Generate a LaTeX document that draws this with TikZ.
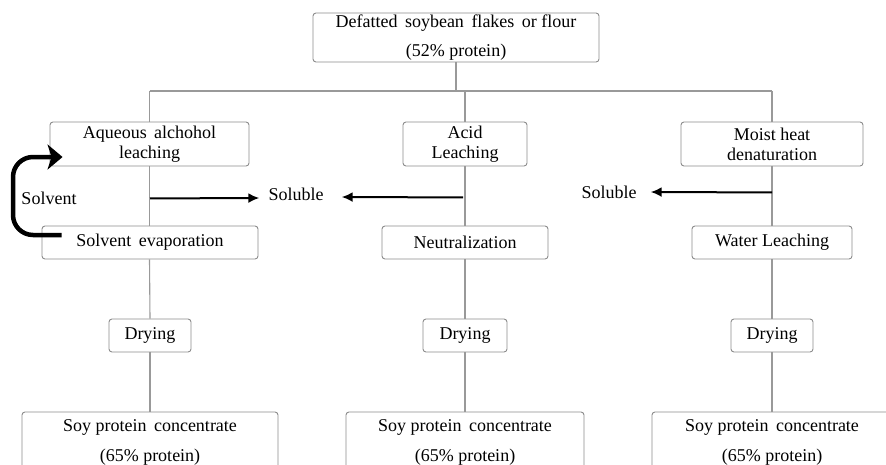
\documentclass[tikz,border=0pt]{standalone}
\usepackage{fontspec}
\setmainfont{Liberation Serif}
\usetikzlibrary{arrows.meta,calc}
\tikzset{
  box/.style={draw=black!45, rounded corners=3pt, line width=0.9pt, align=center, inner sep=0pt, font=\fontsize{18}{20}\selectfont},
  conn/.style={draw=black!40, line width=1.1pt},
  arr/.style={draw=black, line width=2pt, -{Latex[length=11pt,width=10pt]}},
  thickarr/.style={draw=black, line width=4.5pt, rounded corners=20pt, -{Stealth[length=15pt,width=25pt,inset=4pt]}},
  lbl/.style={font=\fontsize{18}{20}\selectfont, inner sep=0pt}
}
\begin{document}
\begin{tikzpicture}[x=1pt,y=-1pt]
\useasboundingbox (0,0) rectangle (886,464);
\clip (0,0) rectangle (886,464);
\fill[white] (0,0) rectangle (886,464);
% nodes
\node[box, minimum width=286, minimum height=49] (top) at (456,37.5) {Defatted\ \,soybean\ \,flakes\ \,or flour\\[9pt](52\% protein)};
\node[box, minimum width=199, minimum height=44] (aq) at (149.5,144) {Aqueous\ \,alchohol\\leaching};
\node[box, minimum width=124, minimum height=44] (acid) at (465,144) {Acid\\Leaching};
\node[box, minimum width=182, minimum height=44] (moist) at (772,144) {Moist heat\\denaturation};
\node[box, minimum width=216, minimum height=33] (se) at (150,242.5) {Solvent\ \,evaporation};
\node[box, minimum width=166, minimum height=33] (neut) at (465,242.5) {Neutralization};
\node[box, minimum width=160, minimum height=33] (water) at (772,242.5) {Water Leaching};
\node[box, minimum width=82, minimum height=33] (dry1) at (150,335.5) {Drying};
\node[box, minimum width=84, minimum height=33] (dry2) at (465,335.5) {Drying};
\node[box, minimum width=82, minimum height=33] (dry3) at (772,335.5) {Drying};
\node[box, minimum width=256, minimum height=60] (spc1) at (150,442) {Soy protein\ \,concentrate\\[10pt](65\% protein)};
\node[box, minimum width=238, minimum height=60] (spc2) at (465,442) {Soy protein\ \,concentrate\\[10pt](65\% protein)};
\node[box, minimum width=240, minimum height=60] (spc3) at (772,442) {Soy protein\ \,concentrate\\[10pt](65\% protein)};
\node[lbl] (sol1) at (296,194) {Soluble};
\node[lbl] (sol2) at (609,192) {Soluble};
\node[lbl] (solv) at (49,198) {Solvent};
% connectors
\coordinate (split) at (456,91);
\draw[conn] (top.south) -- (split);
\draw[conn] (aq.north |- split) -- (moist.north |- split);
\draw[conn] (aq.north |- split) -- (aq.north);
\draw[conn] (acid.north |- split) -- (acid.north);
\draw[conn] (moist.north |- split) -- (moist.north);
\draw[conn] (aq.south) -- (aq.south |- se.north);
\draw[conn] (acid.south) -- (neut.north);
\draw[conn] (moist.south) -- (water.north);
\draw[conn] (aq.south |- se.south) -- (dry1.north);
\draw[conn] (neut.south) -- (dry2.north);
\draw[conn] (water.south) -- (dry3.north);
\draw[conn] (dry1.south) -- (spc1.north);
\draw[conn] (dry2.south) -- (spc2.north);
\draw[conn] (dry3.south) -- (spc3.north);
% arrows
\draw[arr] ($(aq.south)+(0.5,32)$) -- ($(sol1.west)+(-9,4)$);
\draw[arr] ($(acid.south)+(-2,31)$) -- ($(sol1.east)+(18,3)$);
\draw[arr] ($(moist.south)+(0,26)$) -- ($(sol2.east)+(14,0)$);
\draw[thickarr] ($(se.west)+(20,-7.5)$) -- (13,235) -- (13,157) -- ($(aq.west)+(13,13)$);
\end{tikzpicture}
\end{document}
